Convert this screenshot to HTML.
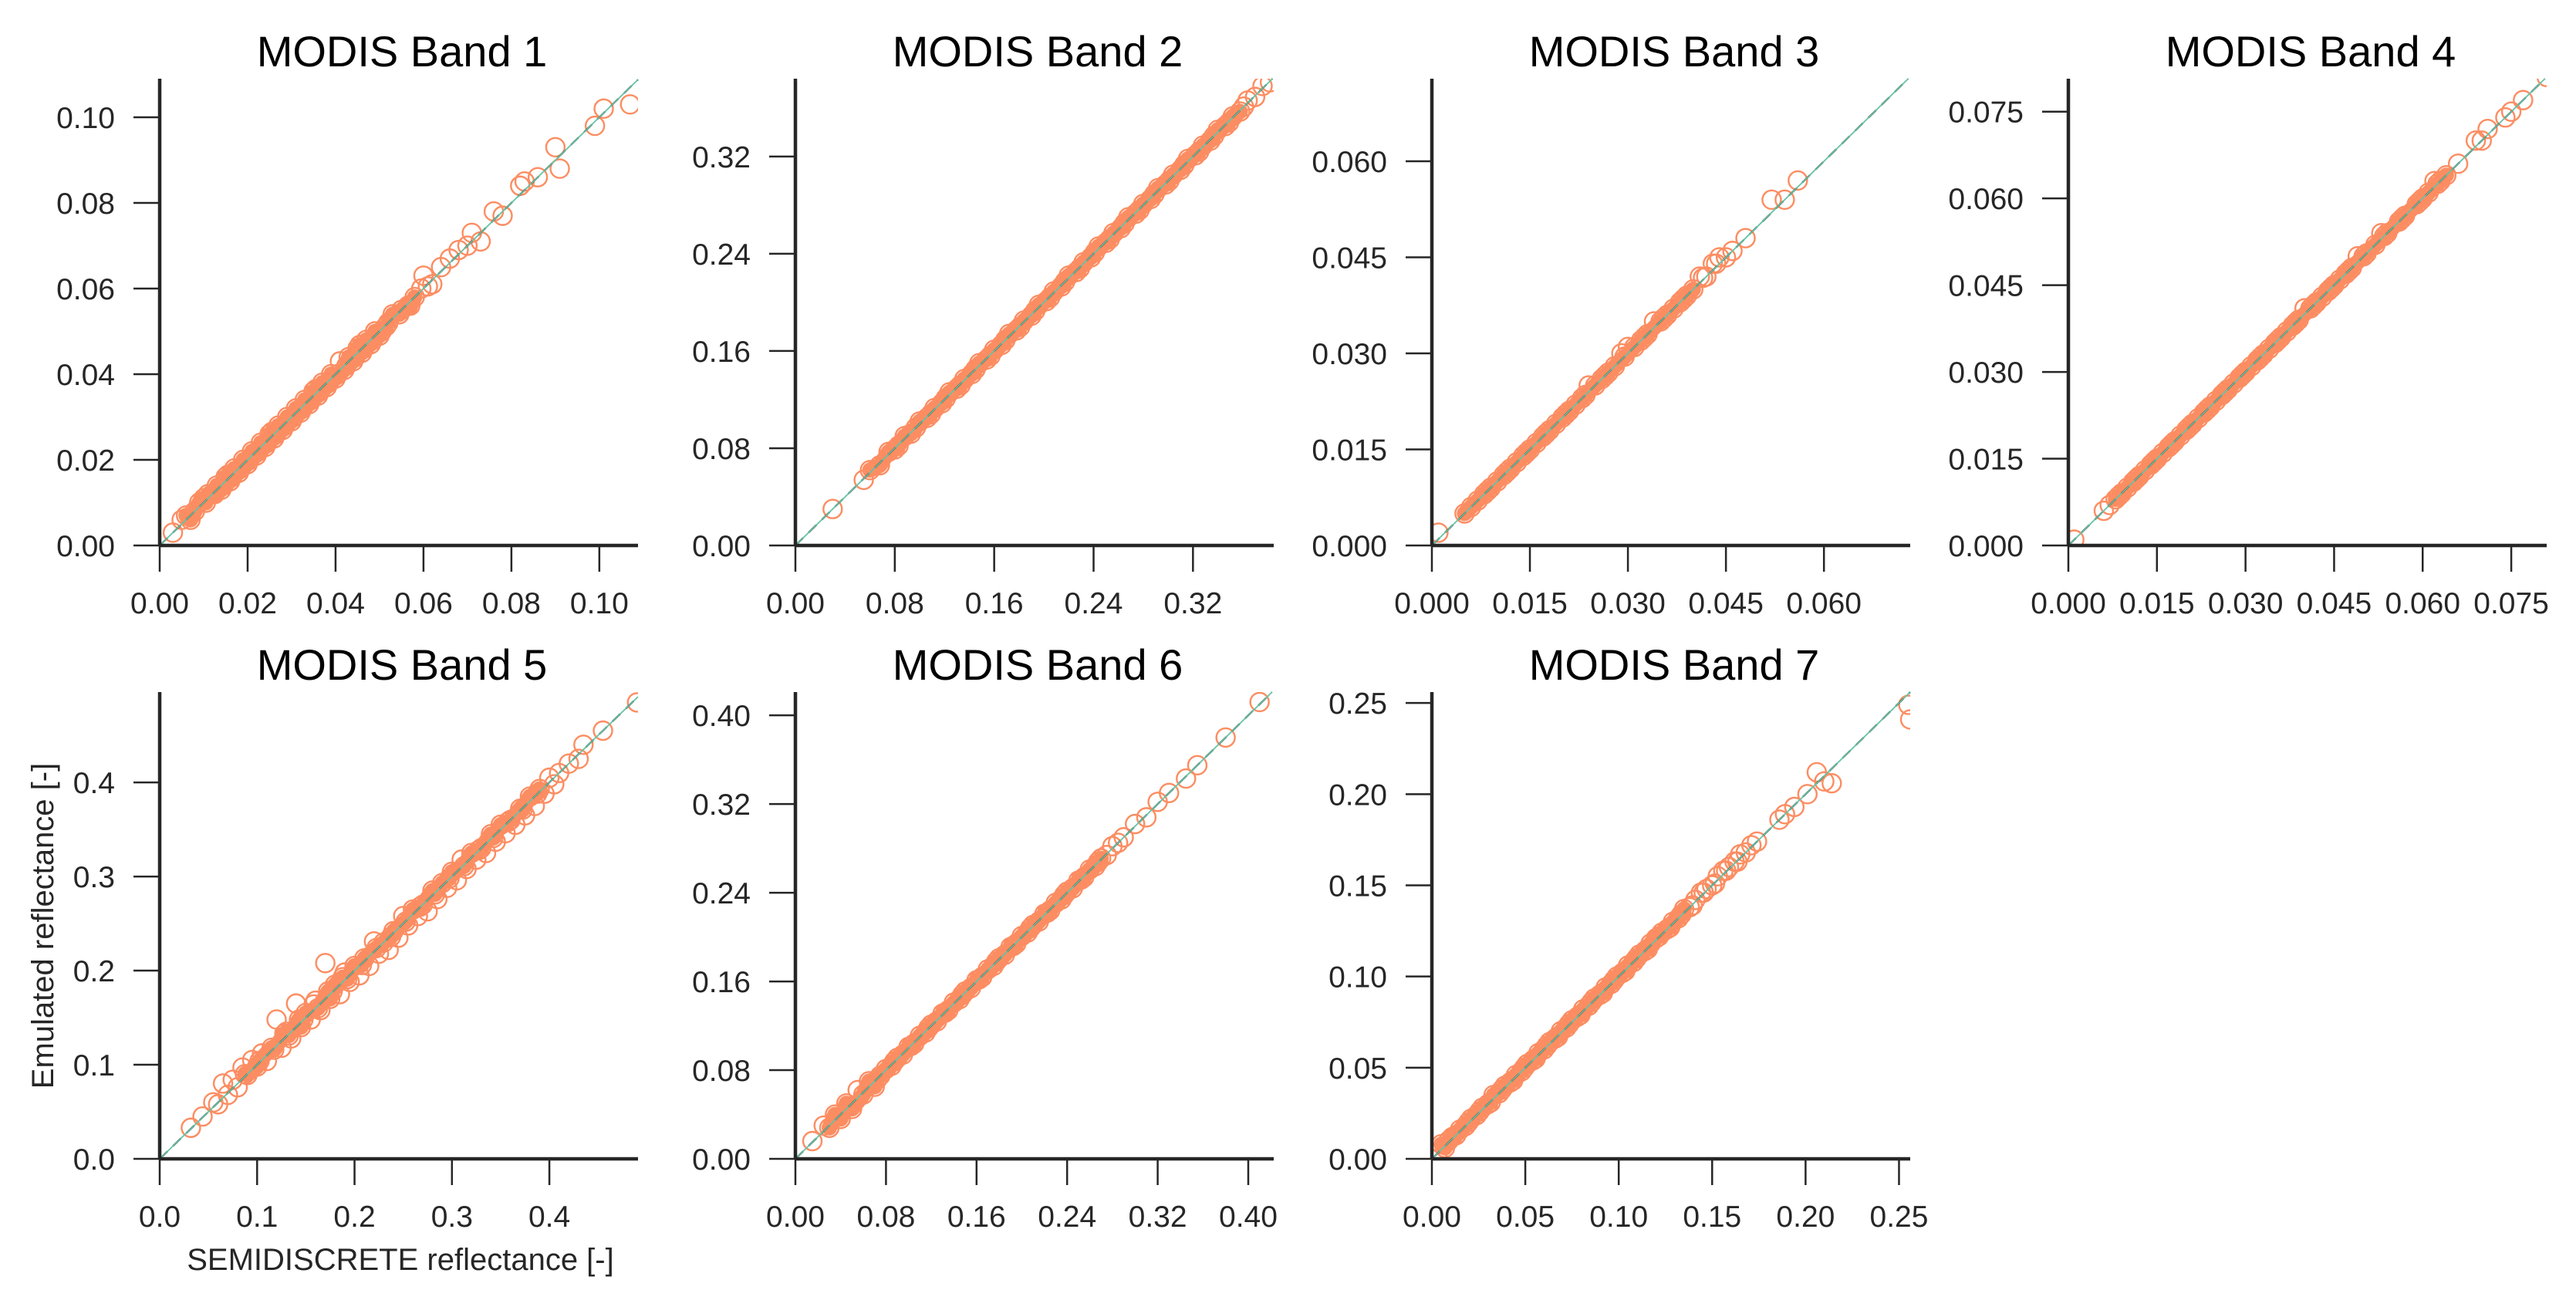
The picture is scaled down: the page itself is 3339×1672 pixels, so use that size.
<!DOCTYPE html>
<html><head><meta charset="utf-8">
<style>
html,body{margin:0;padding:0;background:#fff;}
svg{display:block;font-family:"Liberation Sans",Arial,sans-serif;}
</style></head>
<body>
<svg id="fig" width="3339" height="1672" viewBox="0 0 3339 1672" xmlns="http://www.w3.org/2000/svg"></svg>
<script>
// ---- data (x = SEMIDISCRETE reflectance, y = Emulated reflectance) ----
const titles = ["MODIS Band 1","MODIS Band 2","MODIS Band 3","MODIS Band 4","MODIS Band 5","MODIS Band 6","MODIS Band 7"];
const xTicks1 = ["0.00","0.02","0.04","0.06","0.08","0.10"];
const xTicks2 = ["0.00","0.08","0.16","0.24","0.32"];
const xTicks3 = ["0.000","0.015","0.030","0.045","0.060"];
const xTicks4 = ["0.000","0.015","0.030","0.045","0.060","0.075"];
const xTicks5 = ["0.0","0.1","0.2","0.3","0.4"];
const xTicks6 = ["0.00","0.08","0.16","0.24","0.32","0.40"];
const xTicks7 = ["0.00","0.05","0.10","0.15","0.20","0.25"];
const xMax = [0.1088,0.385,0.0732,0.081,0.491,0.4225,0.256];
const yMax = [0.109,0.384,0.0729,0.0807,0.496,0.421,0.256];
// x-range over which points overlap into a solid band
const denseLo = [0.006,0.060,0.005,0.008,0.085,0.030,0.005];
const denseHi = [0.058,0.360,0.040,0.064,0.390,0.270,0.135];

const x1 = [0.003,0.005,0.006,0.007,0.008,0.009,0.010,0.011,0.012,0.013,0.014,0.015,0.016,0.017,0.018,0.019,0.020,0.021,0.022,0.023,0.024,0.025,0.026,0.027,0.028,0.029,0.030,0.031,0.032,0.033,0.034,0.035,0.036,0.037,0.038,0.039,0.040,0.041,0.042,0.043,0.044,0.045,0.046,0.047,0.048,0.049,0.050,0.052,0.053,0.055,0.057,0.058,0.060,0.062,0.064,0.066,0.068,0.070,0.071,0.073,0.076,0.078,0.082,0.083,0.086,0.090,0.091,0.099,0.101,0.107,
  0.0105,0.0125,0.0145,0.0165,0.0185,0.0205,0.0225,0.0245,0.0265,0.0285,0.0305,0.0325,0.0345,0.0365,0.0385,0.0405,0.0425,0.0445,0.0465,0.0485,0.0505,0.0515,0.0545,0.0565,0.0595,0.0610,0.0155,0.0255,0.0355,0.0455];
const y1 = [0.003,0.006,0.007,0.006,0.008,0.010,0.011,0.012,0.012,0.014,0.013,0.016,0.015,0.018,0.017,0.020,0.019,0.022,0.021,0.024,0.023,0.026,0.025,0.028,0.027,0.030,0.029,0.032,0.031,0.034,0.033,0.036,0.035,0.038,0.037,0.040,0.039,0.043,0.041,0.044,0.043,0.046,0.045,0.048,0.047,0.050,0.049,0.052,0.054,0.055,0.056,0.058,0.063,0.061,0.065,0.067,0.069,0.070,0.073,0.071,0.078,0.077,0.084,0.085,0.086,0.093,0.088,0.098,0.102,0.103,
  0.0100,0.0120,0.0140,0.0160,0.0180,0.0200,0.0220,0.0240,0.0260,0.0280,0.0300,0.0320,0.0340,0.0360,0.0380,0.0400,0.0420,0.0440,0.0460,0.0480,0.0500,0.0512,0.0540,0.0560,0.0600,0.0605,0.0165,0.0265,0.0365,0.0468];
const x2 = [0.030,0.055,0.060,0.068,0.075,0.080,0.088,0.093,0.100,0.106,0.112,0.118,0.124,0.130,0.136,0.142,0.148,0.154,0.160,0.166,0.172,0.178,0.184,0.190,0.196,0.202,0.208,0.214,0.220,0.226,0.232,0.238,0.244,0.250,0.256,0.262,0.268,0.274,0.280,0.286,0.292,0.298,0.304,0.310,0.316,0.322,0.328,0.334,0.340,0.346,0.352,0.358,0.364,0.370,0.376,0.382,
  0.083,0.097,0.109,0.121,0.133,0.145,0.157,0.169,0.181,0.193,0.205,0.217,0.229,0.241,0.253,0.265,0.277,0.289,0.301,0.313,0.325,0.337,0.349,0.361];
const y2 = [0.030,0.054,0.062,0.066,0.077,0.079,0.090,0.092,0.102,0.105,0.113,0.117,0.126,0.129,0.137,0.141,0.150,0.153,0.161,0.165,0.174,0.177,0.185,0.189,0.198,0.201,0.209,0.213,0.222,0.225,0.233,0.237,0.246,0.249,0.257,0.261,0.270,0.273,0.281,0.285,0.294,0.297,0.305,0.309,0.318,0.321,0.329,0.333,0.342,0.345,0.353,0.357,0.366,0.369,0.378,0.381,
  0.082,0.097,0.108,0.121,0.132,0.145,0.156,0.169,0.180,0.193,0.204,0.217,0.228,0.241,0.252,0.265,0.276,0.289,0.300,0.313,0.324,0.337,0.348,0.361];
const x3 = [0.001,0.005,0.006,0.007,0.008,0.009,0.010,0.011,0.012,0.013,0.014,0.015,0.016,0.017,0.018,0.019,0.020,0.021,0.022,0.023,0.024,0.025,0.026,0.027,0.028,0.029,0.030,0.031,0.032,0.033,0.034,0.035,0.036,0.037,0.038,0.039,0.040,0.041,0.042,0.043,0.044,0.045,0.046,0.048,0.052,0.054,0.056,
  0.0085,0.0115,0.0145,0.0175,0.0205,0.0235,0.0265,0.0295,0.0325,0.0355,0.0385,0.0415,0.0435];
const y3 = [0.002,0.005,0.006,0.007,0.008,0.009,0.010,0.011,0.012,0.013,0.014,0.015,0.016,0.017,0.018,0.019,0.020,0.021,0.022,0.023,0.025,0.025,0.026,0.027,0.028,0.030,0.031,0.031,0.032,0.033,0.035,0.035,0.036,0.037,0.038,0.039,0.040,0.042,0.042,0.044,0.045,0.045,0.046,0.048,0.054,0.054,0.057,
  0.0085,0.0115,0.0145,0.0175,0.0205,0.0235,0.0265,0.0295,0.0325,0.0355,0.0385,0.0418,0.0440];
const x4 = [0.001,0.006,0.007,0.008,0.009,0.010,0.011,0.012,0.013,0.014,0.015,0.016,0.017,0.018,0.019,0.020,0.021,0.022,0.023,0.024,0.025,0.026,0.027,0.028,0.029,0.030,0.031,0.032,0.033,0.034,0.035,0.036,0.037,0.038,0.039,0.040,0.041,0.042,0.043,0.044,0.045,0.046,0.047,0.048,0.049,0.050,0.052,0.053,0.054,0.056,0.057,0.059,0.060,0.061,0.062,0.063,0.064,0.066,0.069,0.070,0.071,0.074,0.075,0.077,0.081,
  0.0085,0.0115,0.0145,0.0175,0.0205,0.0235,0.0265,0.0295,0.0325,0.0355,0.0385,0.0415,0.0445,0.0475,0.0505,0.0535,0.0565,0.0595,0.0625];
const y4 = [0.001,0.006,0.007,0.008,0.009,0.010,0.011,0.012,0.013,0.014,0.015,0.016,0.017,0.018,0.019,0.020,0.021,0.022,0.023,0.024,0.025,0.026,0.027,0.028,0.029,0.030,0.031,0.032,0.033,0.034,0.035,0.036,0.037,0.038,0.039,0.041,0.041,0.042,0.043,0.044,0.045,0.046,0.047,0.048,0.050,0.050,0.052,0.054,0.054,0.056,0.057,0.059,0.060,0.061,0.063,0.063,0.064,0.066,0.070,0.070,0.072,0.074,0.075,0.077,0.081,
  0.0085,0.0115,0.0145,0.0175,0.0205,0.0235,0.0265,0.0295,0.0325,0.0355,0.0385,0.0415,0.0445,0.0475,0.0505,0.0535,0.0565,0.0595,0.0625];
const x5 = [0.032,0.044,0.055,0.060,0.065,0.070,0.075,0.080,0.085,0.090,0.095,0.100,0.105,0.110,0.115,0.120,0.125,0.130,0.135,0.140,0.145,0.150,0.155,0.160,0.165,0.170,0.175,0.180,0.185,0.190,0.195,0.200,0.205,0.210,0.215,0.220,0.225,0.230,0.235,0.240,0.245,0.250,0.255,0.260,0.265,0.270,0.275,0.280,0.285,0.290,0.295,0.300,0.305,0.310,0.315,0.320,0.325,0.330,0.335,0.340,0.345,0.350,0.355,0.360,0.365,0.370,0.375,0.380,0.385,0.390,0.395,0.400,0.405,0.410,0.420,0.430,0.435,0.455,0.490,
  0.0875,0.1025,0.1175,0.1325,0.1475,0.1625,0.1775,0.1925,0.2075,0.2225,0.2375,0.2525,0.2675,0.2825,0.2975,0.3125,0.3275,0.3425,0.3575,0.3725,0.3875,0.128,0.143,0.158,0.173,0.188];
const y5 = [0.033,0.045,0.060,0.058,0.080,0.068,0.084,0.076,0.097,0.089,0.105,0.098,0.112,0.104,0.118,0.148,0.118,0.135,0.128,0.165,0.140,0.155,0.148,0.168,0.158,0.208,0.170,0.185,0.175,0.198,0.188,0.205,0.195,0.213,0.205,0.231,0.218,0.230,0.222,0.242,0.235,0.258,0.248,0.265,0.258,0.270,0.263,0.285,0.276,0.293,0.288,0.305,0.296,0.318,0.308,0.325,0.318,0.330,0.325,0.345,0.337,0.355,0.346,0.360,0.355,0.372,0.365,0.385,0.375,0.393,0.388,0.405,0.398,0.410,0.420,0.425,0.440,0.455,0.485,
  0.090,0.104,0.116,0.131,0.148,0.160,0.178,0.191,0.206,0.224,0.236,0.252,0.268,0.281,0.298,0.311,0.328,0.341,0.358,0.371,0.388,0.133,0.148,0.164,0.178,0.193];
const x6 = [0.015,0.025,0.030,0.035,0.040,0.045,0.050,0.055,0.060,0.065,0.070,0.075,0.080,0.085,0.090,0.095,0.100,0.105,0.110,0.115,0.120,0.125,0.130,0.135,0.140,0.145,0.150,0.155,0.160,0.165,0.170,0.175,0.180,0.185,0.190,0.195,0.200,0.205,0.210,0.215,0.220,0.225,0.230,0.235,0.240,0.245,0.250,0.255,0.260,0.265,0.270,0.275,0.280,0.290,0.300,0.310,0.320,0.330,0.345,0.355,0.380,0.410,
  0.0725,0.0875,0.1025,0.1175,0.1325,0.1475,0.1625,0.1775,0.1925,0.2075,0.2225,0.2375,0.2525,0.2675,0.2850];
const y6 = [0.016,0.030,0.028,0.040,0.036,0.050,0.045,0.062,0.058,0.070,0.065,0.075,0.081,0.084,0.091,0.094,0.101,0.104,0.111,0.114,0.121,0.124,0.131,0.134,0.141,0.144,0.151,0.154,0.161,0.164,0.171,0.174,0.181,0.184,0.191,0.194,0.201,0.204,0.211,0.214,0.221,0.224,0.231,0.234,0.241,0.244,0.251,0.254,0.261,0.264,0.271,0.274,0.282,0.290,0.302,0.308,0.322,0.330,0.343,0.355,0.380,0.412,
  0.072,0.088,0.102,0.118,0.132,0.148,0.162,0.178,0.192,0.208,0.222,0.238,0.252,0.268,0.285];
const x7 = [0.003,0.005,0.007,0.009,0.011,0.013,0.015,0.018,0.021,0.024,0.027,0.030,0.033,0.036,0.039,0.042,0.045,0.048,0.051,0.054,0.057,0.060,0.063,0.066,0.069,0.072,0.075,0.078,0.081,0.084,0.087,0.090,0.093,0.096,0.099,0.102,0.105,0.108,0.111,0.114,0.117,0.120,0.123,0.126,0.129,0.132,0.135,0.138,0.141,0.144,0.147,0.150,0.153,0.156,0.159,0.162,0.165,0.168,0.171,0.174,0.186,0.189,0.194,0.201,0.206,0.210,0.214,0.255,0.256,
  0.0195,0.0255,0.0315,0.0375,0.0435,0.0495,0.0555,0.0615,0.0675,0.0735,0.0795,0.0855,0.0915,0.0975,0.1035,0.1095,0.1155,0.1215,0.1275,0.1335,0.1395,0.1455,0.1515,0.1575,0.1635];
const y7 = [0.003,0.008,0.006,0.010,0.012,0.013,0.016,0.018,0.022,0.024,0.028,0.030,0.035,0.036,0.040,0.042,0.046,0.048,0.052,0.054,0.058,0.060,0.064,0.066,0.070,0.072,0.076,0.078,0.082,0.084,0.088,0.090,0.094,0.096,0.100,0.102,0.106,0.108,0.112,0.114,0.118,0.121,0.124,0.126,0.130,0.132,0.137,0.138,0.142,0.146,0.148,0.150,0.155,0.158,0.160,0.163,0.167,0.168,0.172,0.174,0.186,0.189,0.193,0.200,0.212,0.207,0.206,0.249,0.241,
  0.0200,0.0260,0.0310,0.0380,0.0430,0.0500,0.0550,0.0620,0.0670,0.0740,0.0790,0.0860,0.0910,0.0980,0.1030,0.1100,0.1150,0.1220,0.1270,0.1340,0.1390,0.1460,0.1510,0.1580,0.1630];

const allX = [x1,x2,x3,x4,x5,x6,x7];
const allY = [y1,y2,y3,y4,y5,y6,y7];
const allTicks = [xTicks1,xTicks2,xTicks3,xTicks4,xTicks5,xTicks6,xTicks7];

// ---- layout ----
const NS = "http://www.w3.org/2000/svg";
const svg = document.getElementById("fig");
const W = 620, H = 605;
const origins = [[207,707],[1031,707],[1856,707],[2681,707],[207,1502],[1031,1502],[1856,1502]];
const AX = "#262626";
const PT = "#fc8d62";
function mk(tag, attrs, parent){
  const e = document.createElementNS(NS, tag);
  for (const k in attrs) e.setAttribute(k, attrs[k]);
  (parent||svg).appendChild(e);
  return e;
}
const defs = mk("defs", {});

for (let p = 0; p < 7; p++){
  const ox = origins[p][0], oy = origins[p][1];
  const sx = v => ox + v / xMax[p] * W;
  const sy = v => oy - v / yMax[p] * H;
  const g = mk("g", {});
  
  

  const cp = mk("clipPath", {id: "clip"+p}, defs);
  mk("rect", {x: ox, y: oy-H, width: W, height: H}, cp);

  const t = mk("text", {x: ox+314, y: oy-621, "text-anchor":"middle", "font-size":"56", fill:"#000"}, g);
  t.textContent = titles[p];
  
  

  const pg = mk("g", {"clip-path": "url(#clip"+p+")"}, g);
  
  
  const xs = allX[p], ys = allY[p];

  // dense overlap band: path through near-diagonal points in the dense x-range, sorted by x
  const tol = 0.012 * xMax[p];
  const idx = [];
  for (let i = 0; i < xs.length; i++)
    if (xs[i] >= denseLo[p] && xs[i] <= denseHi[p] && Math.abs(ys[i] - xs[i]) <= tol) idx.push(i);
  idx.sort((a,b) => xs[a] - xs[b]);
  if (idx.length > 1){
    let d = "";
    idx.forEach((i,k) => { d += (k ? "L" : "M") + sx(xs[i]).toFixed(1) + " " + sy(ys[i]).toFixed(1); });
    const band = mk("path", {d: d, fill: "none", stroke: PT, "stroke-width": 20, "stroke-linecap": "round", "stroke-linejoin": "round"}, pg);
    
    
  }
  for (let i = 0; i < xs.length; i++){
    const c = mk("circle", {cx: sx(xs[i]), cy: sy(ys[i]), r: 12, fill: "none", stroke: PT, "stroke-width": 2.4}, pg);
    
    
  }
  const lim = Math.min(xMax[p], yMax[p]);
  const l1 = mk("line", {x1: sx(0), y1: sy(0), x2: sx(lim), y2: sy(lim), stroke: "#000", "stroke-width": 2.2, "stroke-dasharray": "14 10"}, g);
  
  
  const l2 = mk("line", {x1: sx(0), y1: sy(0), x2: sx(lim), y2: sy(lim), stroke: "#66c2a5", "stroke-width": 1.8}, g);
  
  

  const ya = mk("line", {x1: ox, y1: oy-H, x2: ox, y2: oy, stroke: AX, "stroke-width": 4.5}, g);
  
  
  const xa = mk("line", {x1: ox, y1: oy, x2: ox+W, y2: oy, stroke: AX, "stroke-width": 4.5}, g);
  
  

  const ticks = allTicks[p];
  for (let i = 0; i < ticks.length; i++){
    const v = parseFloat(ticks[i]);
    const tx = sx(v), ty = sy(v);
    const xt = mk("line", {x1: tx, y1: oy, x2: tx, y2: oy+34, stroke: AX, "stroke-width": 2.5}, g);
    
    
    const xl = mk("text", {x: tx, y: oy+88, "text-anchor": "middle", "font-size": "39", fill: AX}, g);
    xl.textContent = ticks[i];
    
    
    const yt = mk("line", {x1: ox-34, y1: ty, x2: ox, y2: ty, stroke: AX, "stroke-width": 2.5}, g);
    
    
    const yl = mk("text", {x: ox-58, y: ty+14, "text-anchor": "end", "font-size": "39", fill: AX}, g);
    yl.textContent = ticks[i];
    
    
  }
}

const yt = mk("text", {x: 0, y: 0, "text-anchor": "middle", "font-size": "40", fill: AX, transform: "translate(69,1200) rotate(-90)"});
yt.textContent = "Emulated reflectance [-]";


const xt = mk("text", {x: 519, y: 1646, "text-anchor": "middle", "font-size": "40", fill: AX});
xt.textContent = "SEMIDISCRETE reflectance [-]";


</script>
</body></html>
